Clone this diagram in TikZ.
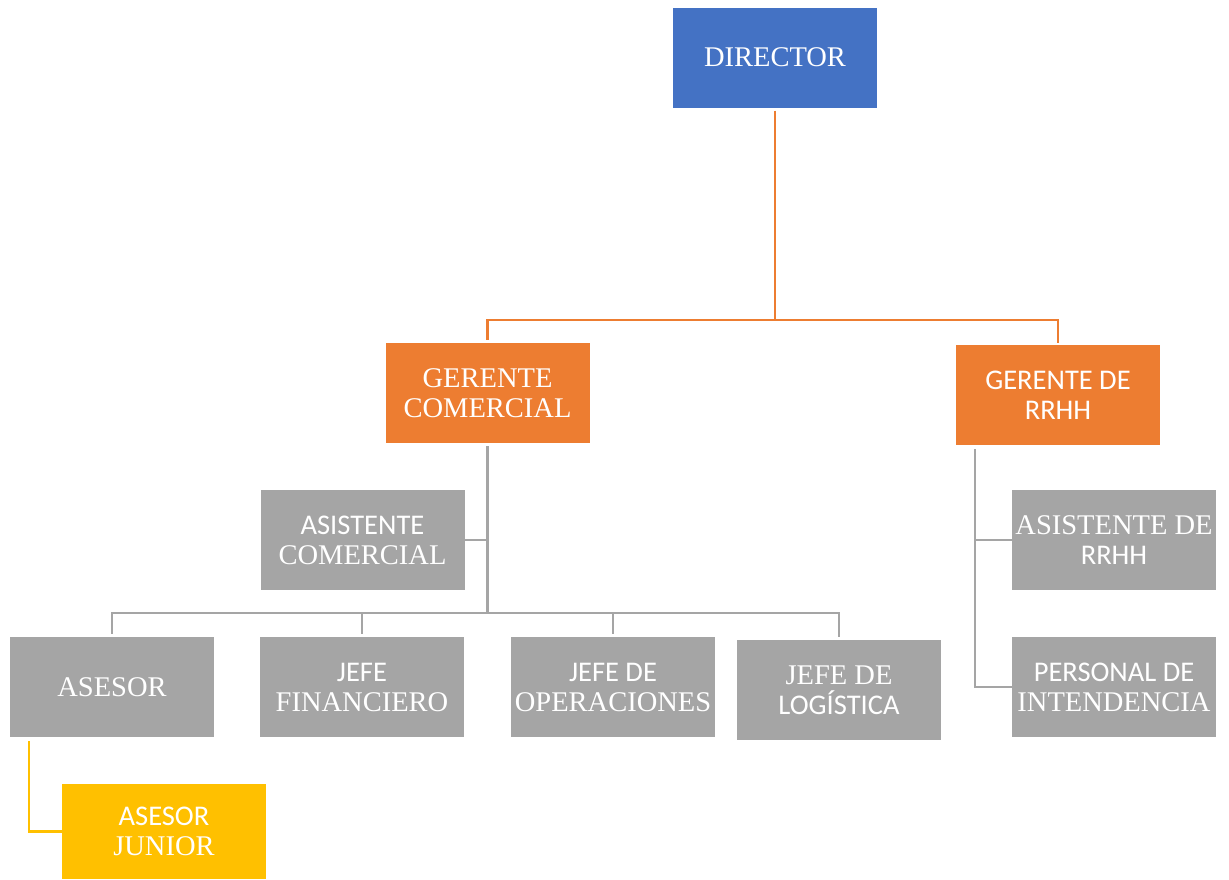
\documentclass[tikz,border=0pt]{standalone}
\usepackage{fontspec}
\setmainfont{Liberation Serif}
\newfontfamily\calib{Carlito}
\definecolor{cblue}{HTML}{4472C4}
\definecolor{corange}{HTML}{ED7D31}
\definecolor{cgray}{HTML}{A5A5A5}
\definecolor{cgold}{HTML}{FFC000}
\begin{document}
\begin{tikzpicture}[x=1pt,y=-1pt,
  orgbox/.style={rectangle, minimum width=204pt, minimum height=100pt, inner sep=0pt,
    align=center, text=white, font=\fontsize{28.5}{30}\selectfont},
  oline/.style={draw=corange, line width=2.6pt},
  gline/.style={draw=cgray, line width=2.6pt},
  yline/.style={draw=cgold, line width=2.6pt}]
\useasboundingbox (0,0) rectangle (1229,879);
% nodes
\node[orgbox, fill=cblue] (dir) at (775,57.5) {DIRECTOR};
\node[orgbox, fill=corange] (gc) at (487.5,393) {GERENTE\\COMERCIAL};
\node[orgbox, fill=corange] (grh) at (1058,395) {{\calib GERENTE DE}\\{\calib RRHH}};
\node[orgbox, fill=cgray] (asc) at (362.5,540) {{\calib ASISTENTE}\\COMERCIAL};
\node[orgbox, fill=cgray] (ases) at (112,687) {ASESOR};
\node[orgbox, fill=cgray] (fin) at (362,687) {{\calib JEFE}\\FINANCIERO};
\node[orgbox, fill=cgray] (ope) at (613,687) {{\calib JEFE DE}\\OPERACIONES};
\node[orgbox, fill=cgray] (log) at (839,690) {JEFE DE\\{\calib LOGÍSTICA}};
\node[orgbox, fill=cgray] (ash) at (1114,540) {ASISTENTE DE\\{\calib RRHH}};
\node[orgbox, fill=cgray] (per) at (1114,687) {{\calib PERSONAL DE}\\INTENDENCIA};
\node[orgbox, fill=cgold, minimum height=95pt] (jun) at (164,831.5) {{\calib ASESOR}\\JUNIOR};
% orange connectors
\coordinate (obus) at ([yshift=23pt]dir.south |- gc.north);
\draw[oline, shorten <=3pt] (dir.south) -- (obus);
\draw[oline, shorten >=3pt] (obus) -| (gc.north);
\draw[oline, shorten >=2pt] (obus) -| (grh.north);
% gray connectors, commercial side
\coordinate (cbus) at ([yshift=24pt]gc.south |- ases.north);
\draw[gline, shorten <=3pt] (gc.south) -- (cbus);
\draw[gline] (asc.east) -- (asc.east -| gc.south);
\draw[gline, shorten >=3pt] (cbus) -| (ases.north);
\draw[gline, shorten >=3pt] (cbus) -| (fin.north);
\draw[gline, shorten >=3pt] (cbus) -| (ope.north);
\draw[gline, shorten >=3pt] (cbus) -| (log.north);
% gray connectors, RRHH side
\coordinate (rtop) at ([xshift=19pt,yshift=-4pt]grh.south west);
\draw[gline] (rtop) |- (per.west);
\draw[gline] (rtop |- ash.west) -- (ash.west);
% gold connector
\coordinate (atop) at ([xshift=19pt,yshift=-4pt]ases.south west);
\draw[yline] (atop) |- (jun.west);
\end{tikzpicture}
\end{document}
